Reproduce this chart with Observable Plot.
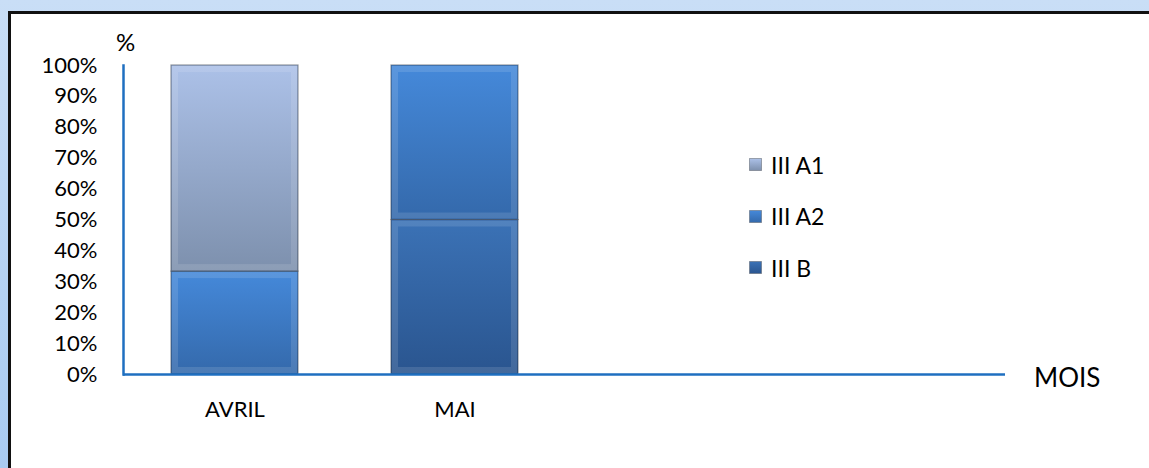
<!DOCTYPE html>
<html><head><meta charset="utf-8">
<script src="https://cdn.jsdelivr.net/npm/d3@7"></script>
<script src="https://cdn.jsdelivr.net/npm/@observablehq/plot@0.6"></script>
<style>
html,body{margin:0;padding:0;}
#wrap{position:relative;width:1149px;height:468px;background:linear-gradient(#c9def6,#a9cbf1);overflow:hidden;font-family:Lato,"Open Sans",sans-serif;}
#panel{position:absolute;left:8px;top:11px;width:1141px;height:457px;background:#fff;border-left:3px solid #111;border-top:3px solid #111;box-sizing:border-box;}
#chart{position:absolute;left:0;top:0;}
.lbl{position:absolute;color:#000;white-space:nowrap;}
#legend{position:absolute;left:749px;top:139px;font-size:23px;}
#legend .item{display:flex;align-items:center;height:51.5px;}
#legend svg{margin-right:9px;}
</style></head>
<body>
<div id="wrap">
  <div id="panel"></div>
  <div id="chart"></div>
  <div class="lbl" style="left:116px;top:27px;font-size:24px;">%</div>
  <div class="lbl" style="left:1034px;top:361px;font-size:26px;">MOIS</div>
  <div id="legend"></div>
</div>
<script>
const months = ["AVRIL", "MAI"];
const emptySlots = [" ", "  "];
const seriesNames = ["III B", "III A2", "III A1"];
const valuesIIIB = [0, 50];
const valuesIIIA2 = [33.3, 50];
const valuesIIIA1 = [66.7, 0];
const yTicks = [0, 10, 20, 30, 40, 50, 60, 70, 80, 90, 100];
const seriesColors = {
  "III B": ["#3b72b6", "#2a558f"],
  "III A2": ["#4589da", "#3469ab"],
  "III A1": ["#acc1e8", "#7d90ad"]
};
const gradIds = {"III B": "gB", "III A2": "gA2", "III A1": "gA1"};

const seriesValues = [valuesIIIB, valuesIIIA2, valuesIIIA1];
const rows = [];
months.forEach((m, i) => {
  seriesNames.forEach((s, j) => {
    if (seriesValues[j][i] > 0) rows.push({mois: m, serie: s, value: seriesValues[j][i]});
  });
});

const plot = Plot.plot({
  width: 1149,
  height: 468,
  marginLeft: 123,
  marginRight: 144,
  marginTop: 65,
  marginBottom: 94,
  style: {background: "transparent", fontFamily: "Lato, 'Open Sans', sans-serif", fontSize: "22px", color: "#000"},
  x: {domain: [...months, ...emptySlots], paddingInner: 0.424, paddingOuter: 0.212},
  y: {domain: [0, 100]},
  color: {type: "ordinal", domain: seriesNames, range: seriesNames.map(s => `url(#${gradIds[s]})`)},
  marks: [
    Plot.barY(rows, {x: "mois", y: "value", fill: "serie", order: seriesNames, stroke: "#3c4450", strokeOpacity: 0.55, strokeWidth: 1.2}),
    Plot.barY(rows, {x: "mois", y: "value", z: "serie", order: seriesNames, fill: "none", stroke: "#ffffff", strokeOpacity: 0.12, strokeWidth: 6, inset: 4}),
    Plot.axisY({ticks: yTicks, tickFormat: d => d + "%", tickSize: 0, tickPadding: 26, label: null, fontSize: 22}),
    Plot.axisX({tickSize: 0, tickPadding: 27, label: null, tickFormat: d => d.trim(), fontSize: 22}),
    Plot.frame({anchor: "left", stroke: "#1f6fc0", strokeWidth: 2.5}),
    Plot.ruleY([0], {stroke: "#1f6fc0", strokeWidth: 2.5})
  ]
});

// gradient definitions
const ns = "http://www.w3.org/2000/svg";
const defs = document.createElementNS(ns, "defs");
for (const s of seriesNames) {
  const g = document.createElementNS(ns, "linearGradient");
  g.setAttribute("id", gradIds[s]);
  g.setAttribute("x1", "0"); g.setAttribute("y1", "0"); g.setAttribute("x2", "0"); g.setAttribute("y2", "1");
  const [c1, c2] = seriesColors[s];
  [[0, c1], [1, c2]].forEach(([o, c]) => {
    const st = document.createElementNS(ns, "stop");
    st.setAttribute("offset", o); st.setAttribute("stop-color", c);
    g.appendChild(st);
  });
  defs.appendChild(g);
}
plot.insertBefore(defs, plot.firstChild);
document.getElementById("chart").appendChild(plot);

// legend (top to bottom: reverse stack order)
const legend = document.getElementById("legend");
[...seriesNames].reverse().forEach(s => {
  const [c1, c2] = seriesColors[s];
  const item = document.createElement("div");
  item.className = "item";
  item.innerHTML = `<svg width="13" height="13"><defs><linearGradient id="l${gradIds[s]}" x1="0" y1="0" x2="0" y2="1"><stop offset="0" stop-color="${c1}"/><stop offset="1" stop-color="${c2}"/></linearGradient></defs><rect x="0.5" y="0.5" width="12" height="12" fill="url(#l${gradIds[s]})" stroke="#555c66" stroke-opacity="0.5"/></svg><span>${s}</span>`;
  legend.appendChild(item);
});
</script>
</body></html>
